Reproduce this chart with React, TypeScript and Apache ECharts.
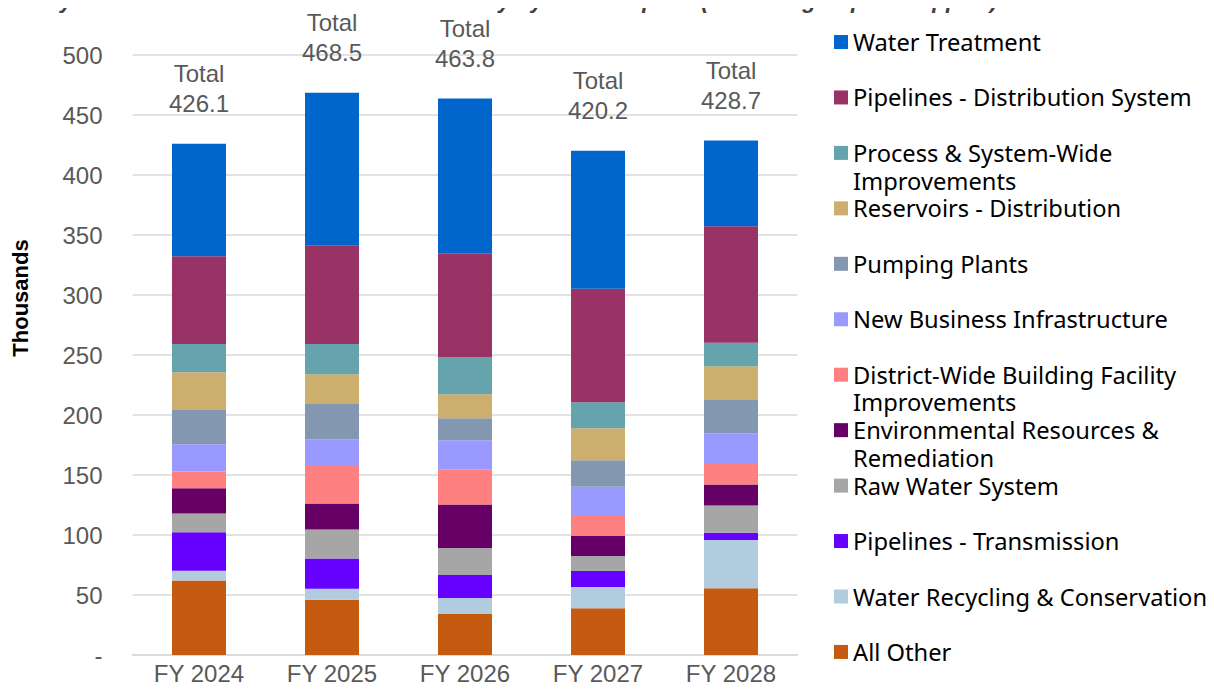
import React, { useEffect, useRef } from "react";
import * as echarts from "echarts";

const categories = ["FY 2024", "FY 2025", "FY 2026", "FY 2027", "FY 2028"];
const totals = [426.1, 468.5, 463.8, 420.2, 428.7];
const yTicks = [0, 50, 100, 150, 200, 250, 300, 350, 400, 450, 500];

// bottom to top stacking order
const allOther = [62.1, 46.0, 34.1, 39.0, 55.7];
const waterRecycling = [8.2, 9.3, 13.4, 17.6, 40.2];
const pipelinesTransmission = [31.9, 25.2, 19.1, 13.4, 6.0];
const rawWater = [15.8, 24.0, 22.6, 12.5, 22.6];
const environmental = [20.9, 21.7, 36.2, 16.7, 17.6];
const districtWide = [14.1, 31.3, 28.9, 16.7, 17.1];
const newBusiness = [22.6, 22.3, 24.6, 24.4, 25.5];
const pumpingPlants = [29.1, 30.0, 18.3, 21.9, 27.7];
const reservoirs = [31.0, 24.2, 20.1, 26.8, 28.3];
const processWide = [23.5, 25.2, 31.0, 21.6, 19.5];
const pipelinesDistribution = [73.1, 81.8, 86.5, 94.6, 97.1];
const waterTreatment = [93.8, 127.5, 129.0, 115.0, 71.4];

const seriesDefs = [
  { name: "All Other", data: allOther, color: "#C55A11" },
  { name: "Water Recycling & Conservation", data: waterRecycling, color: "#B2CCDF" },
  { name: "Pipelines - Transmission", data: pipelinesTransmission, color: "#6600FF" },
  { name: "Raw Water System", data: rawWater, color: "#A6A6A6" },
  { name: "Environmental Resources & Remediation", data: environmental, color: "#660066" },
  { name: "District-Wide Building Facility Improvements", data: districtWide, color: "#FF8080" },
  { name: "New Business Infrastructure", data: newBusiness, color: "#9999FF" },
  { name: "Pumping Plants", data: pumpingPlants, color: "#8497B0" },
  { name: "Reservoirs - Distribution", data: reservoirs, color: "#CCAE6E" },
  { name: "Process & System-Wide Improvements", data: processWide, color: "#66A4AD" },
  { name: "Pipelines - Distribution System", data: pipelinesDistribution, color: "#993366" },
  { name: "Water Treatment", data: waterTreatment, color: "#0066CC" },
];

const legendBreaks: Record<string, string> = {
  "Process & System-Wide Improvements": "Process & System-Wide\nImprovements",
  "District-Wide Building Facility Improvements": "District-Wide Building Facility\nImprovements",
  "Environmental Resources & Remediation": "Environmental Resources &\nRemediation",
};

const sansFont = "'Liberation Sans', Arial, sans-serif";

export default function App() {
  const ref = useRef<HTMLDivElement>(null);
  useEffect(() => {
    if (!ref.current) return;
    const chart = echarts.init(ref.current, null, { renderer: "svg" });
    const last = seriesDefs.length - 1;
    chart.setOption({
      animation: false,
      backgroundColor: "#ffffff",
      graphic: [
        {
          type: "text",
          right: 216,
          top: -11.5,
          style: {
            text: "Water System Cost Allocation Five-Year Summary by Infra Purpose (Excluding Capital Support)",
            fontSize: 22.5,
            fontWeight: "bold",
            fontStyle: "italic",
            fontFamily: sansFont,
            fill: "#404040",
          },
        },
      ],
      grid: { left: 132.5, right: 416.5, top: 55, bottom: 35 },
      legend: {
        orient: "vertical",
        left: 834,
        top: 28.15,
        height: 680,
        padding: 0,
        itemWidth: 14,
        itemHeight: 41.7,
        itemGap: 0.05,
        itemStyle: { borderWidth: 0 },
        icon: "path://M0,41.7 M0,0 L14,0 L14,14 L0,14 Z",
        data: seriesDefs.map((s) => s.name).reverse(),
        formatter: (name: string) => legendBreaks[name] || name + "\n ",
        textStyle: {
          fontSize: 23.7,
          fontFamily: "'Noto Sans', sans-serif",
          color: "#000000",
          lineHeight: 27.7,
        },
        selectedMode: false,
      },
      xAxis: {
        type: "category",
        data: categories,
        axisTick: { show: false },
        axisLine: { lineStyle: { color: "#D9D9D9", width: 1.5 } },
        axisLabel: {
          color: "#595959",
          fontSize: 24,
          fontFamily: sansFont,
          margin: 6,
        },
      },
      yAxis: {
        type: "value",
        min: 0,
        max: 500,
        interval: 50,
        name: "Thousands",
        nameLocation: "middle",
        nameRotate: 90,
        nameGap: 101,
        nameTextStyle: {
          fontSize: 22,
          fontWeight: "bold",
          color: "#000000",
          fontFamily: sansFont,
          padding: [0, 0, 0, 114],
        },
        axisLabel: {
          color: "#595959",
          fontSize: 24,
          fontFamily: sansFont,
          margin: 30,
          formatter: (v: number) => (v === 0 ? "-" : String(v)),
          customValues: yTicks,
        },
        splitLine: { lineStyle: { color: "#D9D9D9", width: 1.5 } },
      },
      series: seriesDefs.map((s, i) => ({
        name: s.name,
        type: "bar",
        stack: "total",
        barWidth: 54,
        itemStyle: { color: s.color },
        data: s.data,
        label:
          i === last
            ? {
                show: true,
                position: "top",
                distance: 25,
                formatter: (p: any) => "Total\n" + totals[p.dataIndex].toFixed(1),
                color: "#595959",
                fontSize: 24,
                lineHeight: 30,
                fontFamily: sansFont,
              }
            : { show: false },
      })),
    });
    return () => chart.dispose();
  }, []);
  return <div ref={ref} style={{ width: 1214, height: 690, margin: -8 }} />;
}
